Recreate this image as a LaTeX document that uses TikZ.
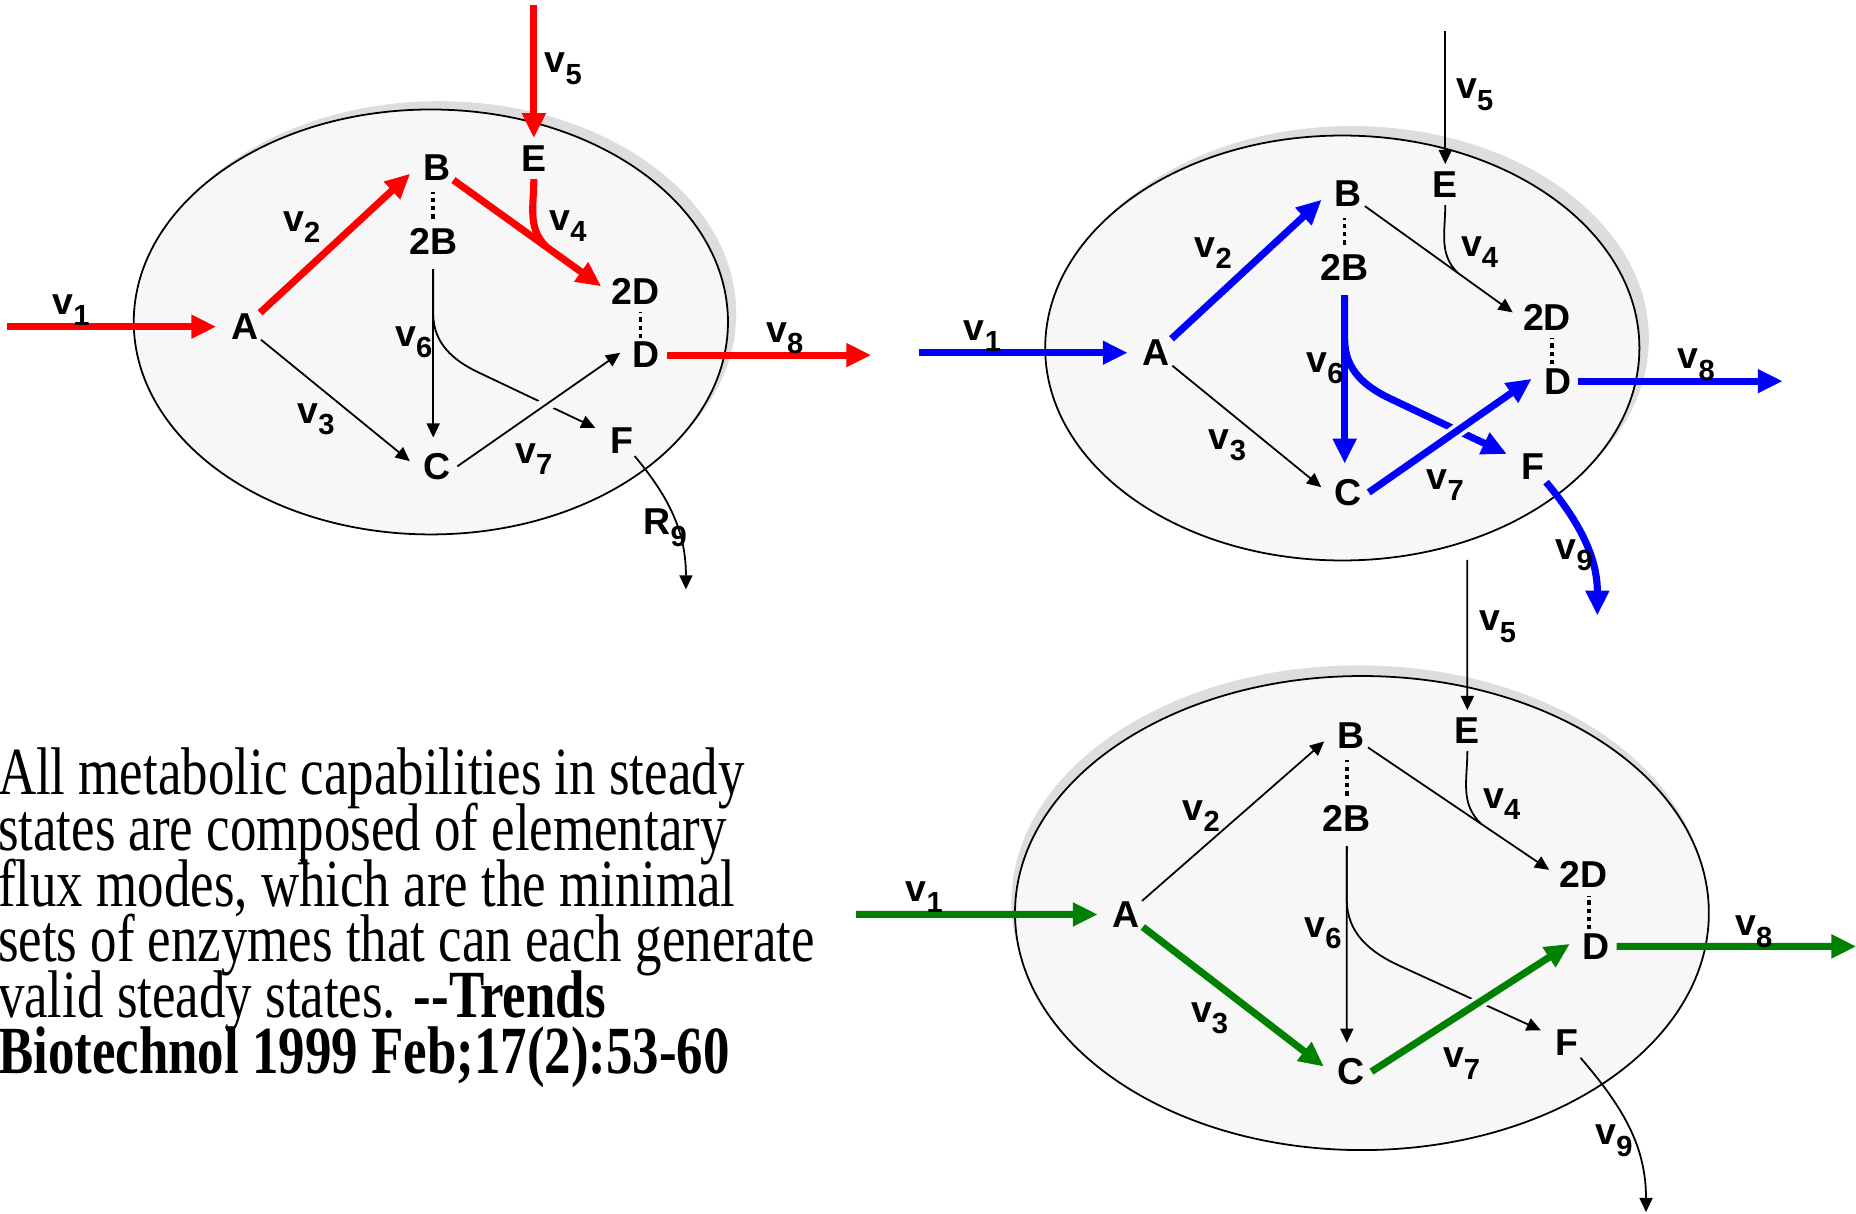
\documentclass[tikz,border=0pt]{standalone}
\usepackage{fontspec}
\usetikzlibrary{arrows.meta}
\newfontfamily\labelfont{Liberation Sans}
\newfontfamily\quotefont[FakeStretch=0.785]{Liberation Serif}
\definecolor{cellfill}{RGB}{247,247,247}
\definecolor{cellshade}{RGB}{221,221,221}
\definecolor{modegreen}{RGB}{0,128,0}
\newcommand{\lowsub}[1]{\raisebox{-5.5pt}{\fontsize{14}{14}\selectfont #1}}
\setlength{\lineskiplimit}{-40pt}

\begin{document}
\begin{tikzpicture}[x=0.2mm, y=0.2mm, line join=round,
  met/.style={circle, inner sep=0pt, minimum size=6.8mm, font=\labelfont\bfseries\fontsize{18}{18}\selectfont},
  lbl/.style={inner sep=0pt, font=\labelfont\bfseries\fontsize{18}{18}\selectfont},
  cell/.style={draw=black, line width=0.3mm, fill=cellfill},
  flow/.style={line width=1.2mm, -{Triangle[length=4.2mm,width=3.8mm]}, shorten >=1.4mm},
  rxn/.style={line width=0.3mm, -{Triangle[length=2.4mm,width=2.2mm]}, shorten >=1.4mm},
  dotlink/.style={line width=0.6mm, dash pattern=on 0.7mm off 0.7mm},
  crossgap/.style={preaction={draw=cellfill, line width=2.4mm, -}},
  blurb/.style={anchor=base west, align=left, inner sep=0pt, font=\quotefont\fontsize{32.4}{26.75}\selectfont}]
\useasboundingbox (0,0) rectangle (1568,-1025);

% mode 1 (red)
\begin{scope}
\fill[cellshade] (371,-265) ellipse [x radius=251, y radius=179.5];
\draw[cell] (364,-272) ellipse [x radius=251, y radius=179.5];
\node[met] (a1) at (207,-276) {A};
\node[met] (b1) at (369,-142) {B};
\node[met] (bb1) at (366,-204) {2B};
\node[met] (e1) at (451,-134) {E};
\node[met] (dd1) at (537,-246) {2D};
\node[met] (d1) at (546,-300) {D};
\node[met] (c1) at (369,-394) {C};
\node[met] (f1) at (525,-372) {F};
\coordinate (in1) at (6,-276);
\coordinate (top1) at (451,-4);
\coordinate (out1) at (736,-300);
\coordinate (sink1) at (579.5,-498);
\draw[dotlink, shorten <=-0.8mm, shorten >=0.6mm] (bb1.north) -- (bb1.north |- b1.south);
\draw[dotlink, shorten <=-0.6mm, shorten >=-1.1mm] ([xshift=-1mm]d1.north) -- ([xshift=-1mm]d1.north |- dd1.south);
\draw[flow, red] (in1) -- (a1);
\draw[flow, red] (a1) -- (b1.west);
\draw[rxn] (a1) -- (c1.west);
\draw[flow, red] (b1) -- (dd1.west) coordinate[pos=.6] (j1);
\draw[red, line width=1.2mm] (e1) to[out=-90, in=135] (j1);
\draw[flow, red, shorten >=0pt] (top1) -- (e1);
\draw[rxn] (bb1) -- (bb1 |- c1.north);
\draw[rxn] (bb1) -- ++(0,-61) to[out=-90, in=155] ++(39,-50) -- (f1);
\draw[rxn, crossgap] (c1.east) -- (d1.160);
\draw[flow, red, shorten >=0pt] (d1) -- (out1);
\draw[rxn, shorten >=0pt] (f1) to[out=-50, in=90] (sink1);
\node[lbl] (l1v1) at (60,-262) {v\lowsub{1}};
\node[lbl] (l1v2) at (255,-192) {v\lowsub{2}};
\node[lbl] (l1v3) at (267,-354) {v\lowsub{3}};
\node[lbl] (l1v4) at (480,-191) {v\lowsub{4}};
\node[lbl] (l1v5) at (476,-58) {v\lowsub{5}};
\node[lbl] (l1v6) at (349.5,-289) {v\lowsub{6}};
\node[lbl] (l1v7) at (451,-388) {v\lowsub{7}};
\node[lbl] (l1v8) at (663,-286) {v\lowsub{8}};
\node[lbl] (l1r9) at (562,-446) {R\lowsub{9}};
\end{scope}

% mode 2 (blue)
\begin{scope}[shift={(770,-22)}]
\fill[cellshade] (372,-264) ellipse [x radius=251, y radius=179.5];
\draw[cell] (364,-272) ellipse [x radius=251, y radius=179.5];
\node[met] (a2) at (207,-276) {A};
\node[met] (b2) at (369,-142) {B};
\node[met] (bb2) at (366,-204) {2B};
\node[met] (e2) at (451,-134) {E};
\node[met] (dd2) at (537,-246) {2D};
\node[met] (d2) at (546,-300) {D};
\node[met] (c2) at (369,-394) {C};
\node[met] (f2) at (525,-372) {F};
\coordinate (in2) at (6,-276);
\coordinate (top2) at (451,-4);
\coordinate (out2) at (736,-300);
\coordinate (sink2) at (579.5,-498);
\draw[dotlink, shorten <=-0.8mm, shorten >=0.6mm] (bb2.north) -- (bb2.north |- b2.south);
\draw[dotlink, shorten <=-0.6mm, shorten >=-1.1mm] ([xshift=-1mm]d2.north) -- ([xshift=-1mm]d2.north |- dd2.south);
\draw[flow, blue] (in2) -- (a2);
\draw[flow, blue] (a2) -- (b2.west);
\draw[rxn] (a2) -- (c2.west);
\draw[rxn] (b2) -- (dd2.west) coordinate[pos=.6] (j2);
\draw[line width=0.3mm] (e2) to[out=-90, in=135] (j2);
\draw[rxn, shorten >=0pt] (top2) -- (e2);
\draw[flow, blue] (bb2) -- (bb2 |- c2.north);
\draw[flow, blue] (bb2) -- ++(0,-61) to[out=-90, in=155] ++(39,-50) -- (f2);
\draw[flow, blue, crossgap] (c2.east) -- (d2.160);
\draw[flow, blue, shorten >=0pt] (d2) -- (out2);
\draw[flow, blue, shorten >=0pt] (f2) to[out=-50, in=90] (sink2);
\node[lbl] (l2v1) at (60,-262) {v\lowsub{1}};
\node[lbl] (l2v2) at (255,-192) {v\lowsub{2}};
\node[lbl] (l2v3) at (267,-354) {v\lowsub{3}};
\node[lbl] (l2v4) at (480,-191) {v\lowsub{4}};
\node[lbl] (l2v5) at (476,-58) {v\lowsub{5}};
\node[lbl] (l2v6) at (349.5,-289) {v\lowsub{6}};
\node[lbl] (l2v7) at (451,-388) {v\lowsub{7}};
\node[lbl] (l2v8) at (663,-286) {v\lowsub{8}};
\node[lbl] (l2v9) at (560,-447) {v\lowsub{9}};
\end{scope}

% mode 3 (green)
\begin{scope}[shift={(709.5,-462)}, xscale=1.17, yscale=1.125]
\fill[cellshade] (374.4,-267) ellipse [x radius=250.5, y radius=178];
\draw[cell] (377,-275) ellipse [x radius=250.5, y radius=178];
\node[met] (a3) at (207,-276) {A};
\node[met] (b3) at (369,-142) {B};
\node[met] (bb3) at (366,-204) {2B};
\node[met] (e3) at (453,-138) {E};
\node[met] (dd3) at (537,-246) {2D};
\node[met] (d3) at (546,-300) {D};
\node[met] (c3) at (369,-394) {C};
\node[met] (f3) at (525,-372) {F};
\coordinate (in3) at (11.8,-276);
\coordinate (top3) at (453,-9.8);
\coordinate (out3) at (733.8,-300);
\coordinate (sink3) at (582,-499.5);
\draw[dotlink, shorten <=-0.8mm, shorten >=0.6mm] (bb3.north) -- (bb3.north |- b3.south);
\draw[dotlink, shorten <=-0.6mm, shorten >=-1.1mm] ([xshift=-1mm]d3.north) -- ([xshift=-1mm]d3.north |- dd3.south);
\draw[flow, modegreen] (in3) -- (a3);
\draw[rxn] (a3) -- (b3.west);
\draw[flow, modegreen] (a3) -- (c3.west);
\draw[rxn] (b3) -- (dd3.west) coordinate[pos=.6] (j3);
\draw[line width=0.3mm] (e3) to[out=-90, in=135] (j3);
\draw[rxn, shorten >=0pt] (top3) -- (e3);
\draw[rxn] (bb3) -- (bb3 |- c3.north);
\draw[rxn] (bb3) -- ++(0,-61) to[out=-90, in=155] ++(39,-50) -- (f3);
\draw[flow, modegreen, crossgap] (c3.east) -- (d3.160);
\draw[flow, modegreen, shorten >=0pt] (d3) -- (out3);
\draw[rxn, shorten >=0pt] (f3) to[out=-50, in=90] (sink3);
\node[lbl] (l3v1) at (61,-263) {v\lowsub{1}};
\node[lbl] (l3v2) at (261,-202) {v\lowsub{2}};
\node[lbl] (l3v3) at (267,-354) {v\lowsub{3}};
\node[lbl] (l3v4) at (478,-193) {v\lowsub{4}};
\node[lbl] (l3v5) at (475,-60) {v\lowsub{5}};
\node[lbl] (l3v6) at (349,-290) {v\lowsub{6}};
\node[lbl] (l3v7) at (449,-388) {v\lowsub{7}};
\node[lbl] (l3v8) at (660,-289) {v\lowsub{8}};
\node[lbl] (l3v9) at (559,-446) {v\lowsub{9}};
\end{scope}

\node[blurb] (note) at (-2,-906.6) {All metabolic capabilities in steady\\
states are composed of elementary\\
flux modes, which are the minimal\\
sets of enzymes that can each generate\\
valid steady states. \textbf{-{}-Trends}\\
\textbf{Biotechnol 1999 Feb;17(2):53-60}};
\end{tikzpicture}
\end{document}
